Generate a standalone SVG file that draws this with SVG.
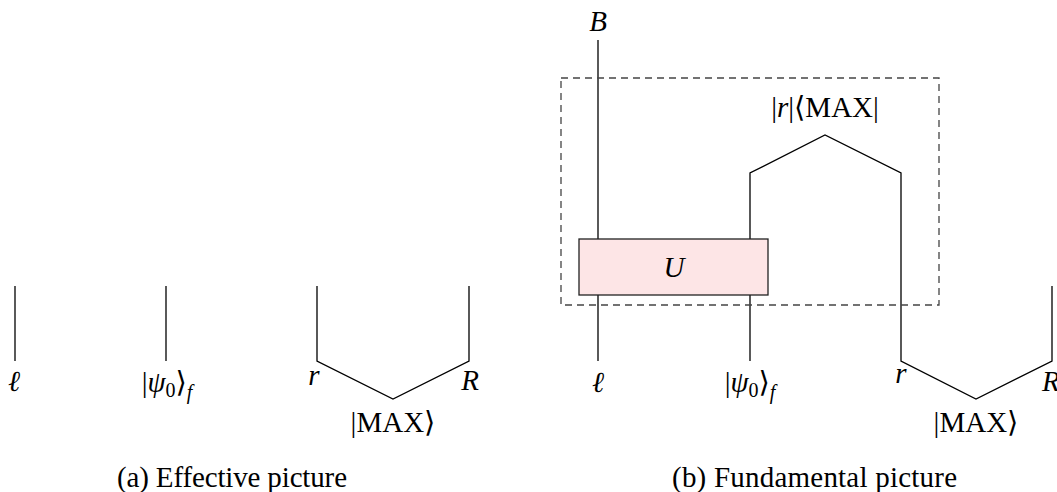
<svg xmlns="http://www.w3.org/2000/svg" width="1057" height="492" viewBox="0 0 1057 492">
<style>
.w{fill:none;stroke:#000;stroke-width:1.3}
.dash{fill:none;stroke:#444;stroke-width:1.3;stroke-dasharray:7,5}
.box{fill:#fde5e6;stroke:#222;stroke-width:1.3}
.m{font-family:"Liberation Serif","DejaVu Serif",serif;font-size:29px;fill:#000}
.i{font-style:italic}
.s{font-size:20px}
.cap{font-family:"Liberation Serif","DejaVu Serif",serif;font-size:29px;fill:#000}
</style>
<rect width="1057" height="492" fill="#fff"/>
<g id="connectors">
<line class="w" x1="15" y1="286" x2="15" y2="361"/>
<line class="w" x1="166" y1="286" x2="166" y2="361"/>
<polyline class="w" points="317,286 317,361 393,399 469,361 469,286"/>
<line class="w" x1="598" y1="40" x2="598" y2="239"/>
<line class="w" x1="598" y1="295" x2="598" y2="361"/>
<line class="w" x1="750" y1="295" x2="750" y2="361"/>
<polyline class="w" points="750,239 750,173 825,135 901,173 901,361 976,399 1052,361 1052,286"/>
</g>
<g id="dashed-box"><rect class="dash" x="561" y="78" width="378" height="227"/></g>
<g id="U"><rect class="box" x="579" y="239" width="189" height="56"/><text class="m i" x="674" y="277" text-anchor="middle">U</text></g>
<g id="labels-a">
<text class="m i" x="14" y="391" text-anchor="middle">ℓ</text>
<text class="m" x="167" y="392" text-anchor="middle">|<tspan class="i">ψ</tspan><tspan class="s" dy="5">0</tspan><tspan dy="-5">⟩</tspan><tspan class="i s" dy="7">f</tspan></text>
<text class="m i" x="314" y="385" text-anchor="middle">r</text>
<text class="m i" x="470" y="390" text-anchor="middle">R</text>
<text class="m" x="393" y="432" text-anchor="middle">|MAX⟩</text>
</g>
<g id="labels-b">
<text class="m i" x="598" y="31" text-anchor="middle">B</text>
<text class="m i" x="598" y="392" text-anchor="middle">ℓ</text>
<text class="m" x="750" y="392" text-anchor="middle">|<tspan class="i">ψ</tspan><tspan class="s" dy="5">0</tspan><tspan dy="-5">⟩</tspan><tspan class="i s" dy="7">f</tspan></text>
<text class="m" x="825" y="117" text-anchor="middle">|<tspan class="i">r</tspan>|⟨MAX|</text>
<text class="m i" x="901" y="383" text-anchor="middle">r</text>
<text class="m i" x="1042" y="391">R</text>
<text class="m" x="976" y="432" text-anchor="middle">|MAX⟩</text>
</g>
<g id="captions">
<text class="cap" x="117" y="487" textLength="230">(a) Effective picture</text>
<text class="cap" x="672" y="487" textLength="285">(b) Fundamental picture</text>
</g>
</svg>
